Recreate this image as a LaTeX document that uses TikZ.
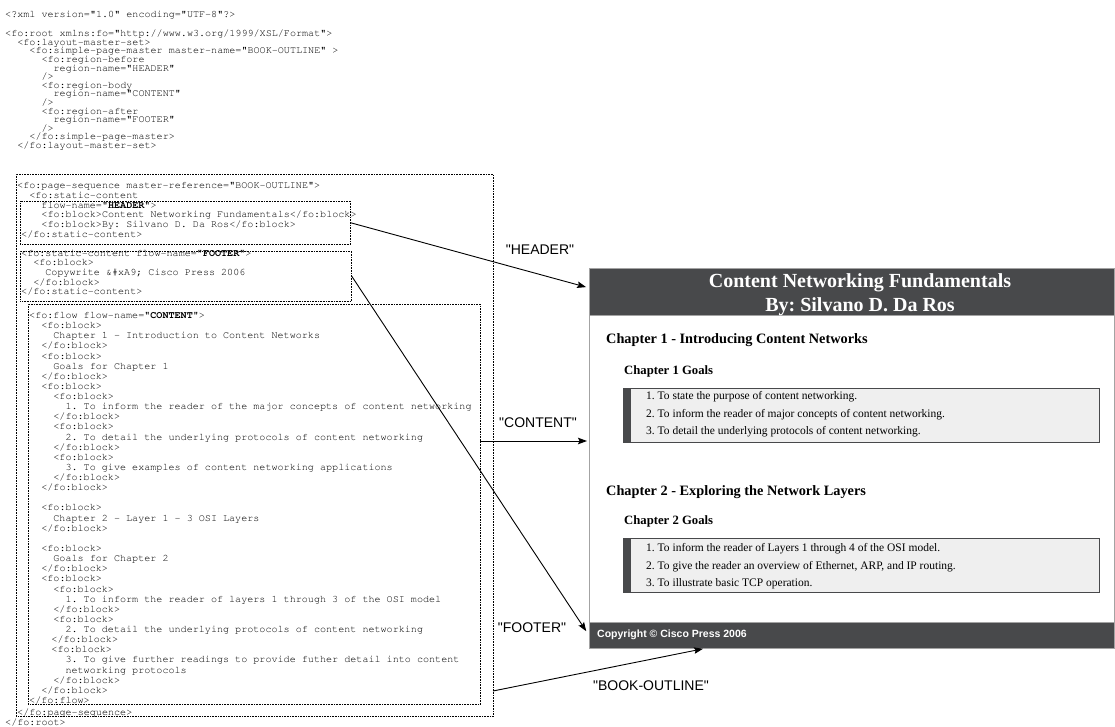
\documentclass[tikz,border=0pt]{standalone}
\usepackage[T1,TU]{fontenc}
\usepackage{fontspec}
\setmainfont{Liberation Serif}
\newfontfamily\labelfont{Liberation Sans}
\newcommand\codefont{\fontencoding{T1}\fontfamily{pcr}}
\usetikzlibrary{arrows.meta}

\definecolor{bandgray}{HTML}{48494B}
\definecolor{boxgray}{HTML}{EFEFEF}
\definecolor{rimgray}{HTML}{A3A3A3}
\newcommand\cstrut{\rule{0pt}{8.5pt}}
\setlength{\lineskiplimit}{-20pt}

\begin{document}
\frenchspacing
\begin{tikzpicture}[x=1pt,y=-1pt,
  xml/.style={anchor=north west,inner sep=0pt,align=left,
    font=\codefont\fontsize{10.1}{#1}\selectfont},
  cbox/.style={draw,anchor=north west,inner sep=0pt,line width=0.6pt,
    dash pattern=on 0.7pt off 0.9pt},
  darkband/.style={anchor=north west,fill=bandgray,draw=rimgray,line width=0.8pt,
    minimum width=525pt,inner sep=0pt},
  goalbox/.style={anchor=north west,fill=boxgray,draw=bandgray,line width=0.8pt,
    minimum width=476pt,minimum height=54pt,inner sep=0pt},
  chaphead/.style={anchor=west,inner sep=0pt,font=\bfseries\fontsize{14.3}{17}\selectfont},
  goalhead/.style={anchor=west,inner sep=0pt,font=\bfseries\fontsize{12.7}{15}\selectfont},
  goalitem/.style={anchor=west,inner sep=0pt,font=\fontsize{11.5}{13}\selectfont},
  lbl/.style={inner sep=0pt,font=\labelfont\fontsize{14}{16}\selectfont},
  conn/.style={-{Stealth[length=9pt,width=6.5pt,inset=1.5pt]},line width=0.9pt}]
\useasboundingbox (0,0) rectangle (1115,727);
% source listing
\node[cbox,minimum width=477pt,minimum height=542pt] (seqbox) at (16,174) {};
\node[cbox,minimum width=330pt,minimum height=43.5pt] (hdrbox) at (20,200.7) {};
\node[cbox,minimum width=331pt,minimum height=50pt] (ftrbox) at (20,250.7) {};
\node[cbox,minimum width=452pt,minimum height=400pt] (flowbox) at (28,304) {};
\node[xml=10.13] (xmldecl) at (5,8.8) {\cstrut<?xml version="1.0" encoding="UTF-8"?>};
\node[xml=8.6] (mastercode) at (5,28.1) {\cstrut<fo:root xmlns:fo="http://www.w3.org/1999/XSL/Format">\\
~~<fo:layout-master-set>\\
~~~~<fo:simple-page-master master-name="BOOK-OUTLINE" >\\
~~~~~~<fo:region-before\\
~~~~~~~~region-name="HEADER"\\
~~~~~~/>\\
~~~~~~<fo:region-body\\
~~~~~~~~region-name="CONTENT"\\
~~~~~~/>\\
~~~~~~<fo:region-after\\
~~~~~~~~region-name="FOOTER"\\
~~~~~~/>\\
~~~~</fo:simple-page-master>\\
~~</fo:layout-master-set>};
\node[xml=9.8] (hdrcode) at (17,179.8) {\cstrut<fo:page-sequence master-reference="BOOK-OUTLINE">\\
~~<fo:static-content\\
~~~~flow-name="{\bfseries HEADER}">\\
~~~~<fo:block>Content Networking Fundamentals</fo:block>\\
~~~~<fo:block>By: Silvano D. Da Ros</fo:block>\\
\hspace*{4pt}</fo:static-content>};
\node[xml=9.6] (ftrcode) at (21,247.5) {\cstrut<fo:static-content flow-name="{\bfseries FOOTER}">\\
~~<fo:block>\\
~~~~Copywrite \&\#xA9; Cisco Press 2006\\
~~</fo:block>\\
</fo:static-content>};
\node[xml=10.13] (flowcode) at (29,309.8) {\cstrut<fo:flow flow-name="{\bfseries CONTENT}">\\
~~<fo:block>\\
~~~~Chapter 1 - Introduction to Content Networks\\
~~</fo:block>\\
~~<fo:block>\\
~~~~Goals for Chapter 1\\
~~</fo:block>\\
~~<fo:block>\\
~~~~<fo:block>\\
~~~~~~1. To inform the reader of the major concepts of content networking\\
~~~~</fo:block>\\
~~~~<fo:block>\\
~~~~~~2. To detail the underlying protocols of content networking\\
~~~~</fo:block>\\
~~~~<fo:block>\\
~~~~~~3. To give examples of content networking applications\\
~~~~</fo:block>\\
~~</fo:block>\\
\mbox{}\\
~~<fo:block>\\
~~~~Chapter 2 - Layer 1 - 3 OSI Layers\\
~~</fo:block>\\
\mbox{}\\
~~<fo:block>\\
~~~~Goals for Chapter 2\\
~~</fo:block>\\
~~<fo:block>\\
~~~~<fo:block>\\
~~~~~~1. To inform the reader of layers 1 through 3 of the OSI model\\
~~~~</fo:block>\\
~~~~<fo:block>\\
~~~~~~2. To detail the underlying protocols of content networking\\
\hspace*{-2pt}~~~~</fo:block>\\
\hspace*{-2pt}~~~~<fo:block>\\
~~~~~~3. To give further readings to provide futher detail into content\\
~~~~~~networking protocols\\
~~~~</fo:block>\\
~~</fo:block>\\
</fo:flow>};
\node[xml=10.13] (seqend) at (17,706.8) {\cstrut</fo:page-sequence>};
\node[xml=10.13] (rootend) at (5,716.8) {\cstrut</fo:root>};
% rendered page
\node[anchor=north west,fill=white,draw=rimgray,line width=1pt,minimum width=525pt,
  minimum height=380pt,inner sep=0pt] (body) at (589,268) {};
\node[darkband,minimum height=47pt] (hdrband) at (589,268) {};
\node[darkband,minimum height=26pt] (ftrband) at (589,622) {};
\node[anchor=base,inner sep=0pt,text=white,font=\bfseries\fontsize{20}{24}\selectfont]
  (booktitle) at (860,287.5) {Content Networking Fundamentals};
\node[anchor=base,inner sep=0pt,text=white,font=\bfseries\fontsize{20}{24}\selectfont]
  (bookauthor) at (860,311) {By: Silvano D. Da Ros};
\node[chaphead] (chap1) at (606,340) {Chapter 1 - Introducing Content Networks};
\node[goalhead] (goals1) at (624,371) {Chapter 1 Goals};
\node[goalbox] (list1) at (623,388) {};
\fill[bandgray] (list1.north west) rectangle ([xshift=8pt]list1.south west);
\node[goalitem] (g11) at (646,397) {1. To state the purpose of content networking.};
\node[goalitem] (g12) at (646,414.5) {2. To inform the reader of major concepts of content networking.};
\node[goalitem] (g13) at (646,432) {3. To detail the underlying protocols of content networking.};
\node[chaphead] (chap2) at (606,492) {Chapter 2 - Exploring the Network Layers};
\node[goalhead] (goals2) at (624,521) {Chapter 2 Goals};
\node[goalbox] (list2) at (623,538) {};
\fill[bandgray] (list2.north west) rectangle ([xshift=8pt]list2.south west);
\node[goalitem] (g21) at (646,549) {1. To inform the reader of Layers 1 through 4 of the OSI model.};
\node[goalitem] (g22) at (646,566.5) {2. To give the reader an overview of Ethernet, ARP, and IP routing.};
\node[goalitem] (g23) at (646,584) {3. To illustrate basic TCP operation.};
\node[anchor=west,inner sep=0pt,text=white,font=\labelfont\bfseries\fontsize{10.5}{12}\selectfont]
  (copyline) at (597,635) {Copyright © Cisco Press 2006};
% region names and arrows
\node[lbl] (lblhdr) at (540,250) {"HEADER"};
\node[lbl] (lblcnt) at (538,423) {"CONTENT"};
\node[lbl] (lblftr) at (532,628) {"FOOTER"};
\node[lbl] (lblbook) at (651,686) {"BOOK-OUTLINE"};
\coordinate (cntout) at (480,441);
\coordinate (seqout) at (493,691);
\draw[conn,shorten >=3pt] (hdrbox.east) -- ([yshift=4pt]hdrband.west);
\draw[conn,shorten >=2pt] (cntout) -- (cntout -| body.west);
\draw[conn,shorten >=5pt] (ftrbox.east) -- (ftrband.west);
\draw[conn] (seqout) -- ([xshift=114pt]ftrband.south west);
\end{tikzpicture}
\end{document}
